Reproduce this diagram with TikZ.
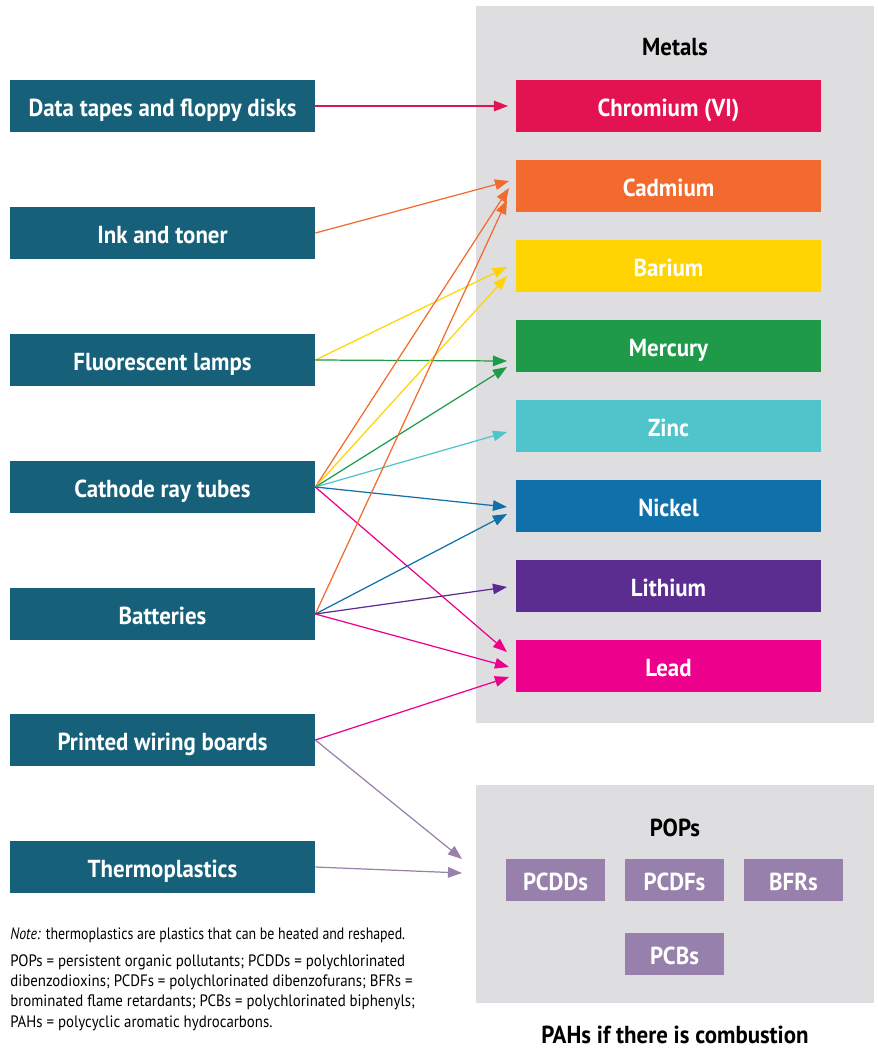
\documentclass[tikz,border=0pt]{standalone}
\usepackage{fontspec}
\setmainfont{PT Sans}
\newfontfamily\condfont{PT Sans Bold}[FakeStretch=0.93]
\newfontfamily\notefont{PT Sans}[FakeStretch=0.9, ItalicFont={PT Sans Italic}]
\newfontfamily\notetight{PT Sans}[FakeStretch=0.84, ItalicFont={PT Sans Italic}]
\usetikzlibrary{arrows.meta}

\definecolor{srcteal}{RGB}{22,96,122}
\definecolor{panelgray}{RGB}{222,222,224}
\definecolor{crcol}{RGB}{227,19,81}
\definecolor{cdcol}{RGB}{242,106,45}
\definecolor{bacol}{RGB}{255,212,0}
\definecolor{hgcol}{RGB}{30,154,72}
\definecolor{zncol}{RGB}{79,196,203}
\definecolor{nicol}{RGB}{16,112,170}
\definecolor{licol}{RGB}{92,45,145}
\definecolor{pbcol}{RGB}{236,0,140}
\definecolor{popcol}{RGB}{151,129,172}

\begin{document}
\begin{tikzpicture}[x=0.02cm, y=-0.02cm,
		>={Triangle[length=8pt,width=6pt]},
		source/.style={fill=srcteal, text=white, minimum width=6.1cm, minimum height=1.04cm, inner sep=0pt,
			text height=12pt, text depth=0pt, font=\condfont\fontsize{14}{16}\selectfont},
		metal/.style={source, fill=#1},
		pop/.style={source, fill=popcol, minimum width=1.98cm, minimum height=0.84cm},
		title/.style={text height=12pt, text depth=0pt, font=\condfont\fontsize{14}{16}\selectfont},
		link/.style={->, line width=0.7pt, draw=#1}]
		\useasboundingbox (0, 0) rectangle (878, 1048);

		% grey panels
		\fill[panelgray] (476, 6) rectangle (874, 723);
		\fill[panelgray] (476, 785) rectangle (874, 1003);

		% sources
		\node[source] (data) at (162.5, 106) {Data tapes and floppy disks};
		\node[source] (ink) at (162.5, 233) {Ink and toner};
		\node[source] (lamps) at (162.5, 360) {Fluorescent lamps};
		\node[source] (crt) at (162.5, 487) {Cathode ray tubes};
		\node[source] (bat) at (162.5, 614) {Batteries};
		\node[source] (pwb) at (162.5, 740) {Printed wiring boards};
		\node[source] (thermo) at (162.5, 867) {Thermoplastics};

		% metals
		\node[title] (metals) at (675, 45) {Metals};
		\node[metal=crcol] (Cr) at (668.5, 106) {Chromium (VI)};
		\node[metal=cdcol] (Cd) at (668.5, 186) {Cadmium};
		\node[metal=bacol] (Ba) at (668.5, 266) {Barium};
		\node[metal=hgcol] (Hg) at (668.5, 346) {Mercury};
		\node[metal=zncol] (Zn) at (668.5, 426) {Zinc};
		\node[metal=nicol] (Ni) at (668.5, 506) {Nickel};
		\node[metal=licol] (Li) at (668.5, 586) {Lithium};
		\node[metal=pbcol] (Pb) at (668.5, 666) {Lead};

		% POPs
		\node[title] (pops) at (675, 826) {POPs};
		\node[pop] (pcdd) at (555.5, 880) {PCDDs};
		\node[pop] (pcdf) at (674.5, 880) {PCDFs};
		\node[pop] (bfr) at (793.5, 880) {BFRs};
		\node[pop] (pcb) at (674.5, 954) {PCBs};
		\node[title] (pahs) at (675, 1033) {PAHs if there is combustion};

		% arrow ends
		\coordinate (crA) at (508, 106);
		\coordinate (cdA) at (509, 181);
		\coordinate (cdB) at (509, 188);
		\coordinate (cdC) at (507, 200);
		\coordinate (baA) at (507, 267);
		\coordinate (baB) at (507, 276);
		\coordinate (hgA) at (507, 361);
		\coordinate (hgB) at (507, 367);
		\coordinate (znA) at (507, 432);
		\coordinate (niA) at (507, 507);
		\coordinate (niB) at (507, 514);
		\coordinate (liA) at (507, 587);
		\coordinate (pbA) at (507, 652);
		\coordinate (pbB) at (509, 667);
		\coordinate (pbC) at (509, 677);
		\coordinate (popA) at (462, 859);
		\coordinate (popB) at (462, 873);

		\draw[link=crcol] (data.east) -- (crA);
		\draw[link=cdcol] (ink.east) -- (cdA);
		\draw[link=bacol] (lamps.east) -- (baA);
		\draw[link=hgcol] (lamps.east) -- (hgA);
		\draw[link=cdcol] (crt.east) -- (cdB);
		\draw[link=bacol] (crt.east) -- (baB);
		\draw[link=hgcol] (crt.east) -- (hgB);
		\draw[link=zncol] (crt.east) -- (znA);
		\draw[link=nicol] (crt.east) -- (niA);
		\draw[link=pbcol] (crt.east) -- (pbA);
		\draw[link=cdcol] (bat.east) -- (cdC);
		\draw[link=nicol] (bat.east) -- (niB);
		\draw[link=licol] (bat.east) -- (liA);
		\draw[link=pbcol] (bat.east) -- (pbB);
		\draw[link=pbcol] (pwb.east) -- (pbC);
		\draw[link=popcol] (pwb.east) -- (popA);
		\draw[link=popcol] (thermo.east) -- (popB);

		% notes
		\node[anchor=west, inner sep=0pt, font=\notetight\fontsize{9.4}{11.3}\selectfont] (note) at (10, 935)
			{\textit{Note:} thermoplastics are plastics that can be heated and reshaped.};
		\node[anchor=north west, inner sep=0pt, align=left, font=\notefont\fontsize{9.4}{11.6}\selectfont] (abbrev) at (10, 954)
			{POPs = persistent organic pollutants; PCDDs = polychlorinated\\
			dibenzodioxins; PCDFs = polychlorinated dibenzofurans; BFRs =\\
			brominated flame retardants; PCBs = polychlorinated biphenyls;\\
			PAHs = polycyclic aromatic hydrocarbons.};
	\end{tikzpicture}
\end{document}
